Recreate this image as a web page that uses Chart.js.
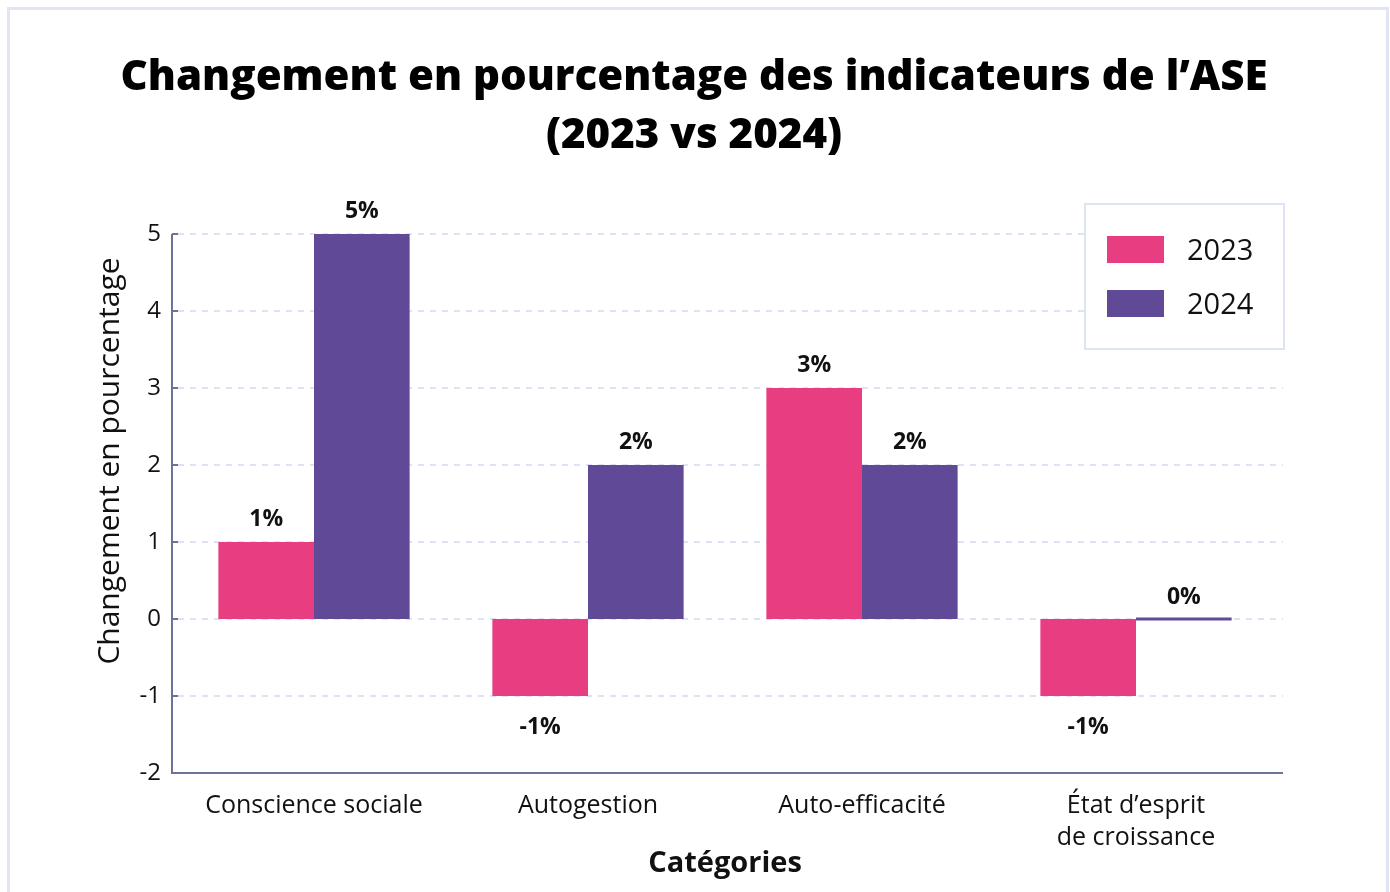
<!DOCTYPE html>
<html>
<head>
<meta charset="utf-8">
<script src="https://cdn.jsdelivr.net/npm/chart.js@4.4.1/dist/chart.umd.min.js"></script>
<style>
  html, body { margin: 0; padding: 0; background: #ffffff; overflow: hidden; }
  #wrap { position: relative; width: 1390px; height: 892px; }
  #frame { position: absolute; left: 7px; top: 7px; width: 1376px; height: 900px; border: 3px solid #e0e5f5; pointer-events: none; }
  canvas { position: absolute; left: 0; top: 0; }
</style>
</head>
<body>
<div id="wrap">
  <canvas id="c" width="1390" height="892"></canvas>
  <div id="frame"></div>
</div>
<script>
const categories = ["Conscience sociale", "Autogestion", "Auto-efficacité", ["État d’esprit", "de croissance"]];
const values2023 = [1, -1, 3, -1];
const values2024 = [5, 2, 2, 0];
const seriesLabels = ["2023", "2024"];
const seriesColors = ["#e93d82", "#604a97"];
const titleLines = ["Changement en pourcentage des indicateurs de l’ASE", "(2023 vs 2024)"];
const yTitle = "Changement en pourcentage";
const xTitle = "Catégories";

const FONT = "'Open Sans', 'Noto Sans', sans-serif";
const AXIS_COLOR = "#6b7399";
const GRID_COLOR = "#dde2f4";
const AXIS_X = 172;      // where the drawn y-axis line sits
const AXIS_RIGHT = 1283; // where the x-axis line / grid lines end

// chart title (centred on the page)
const pageTitle = {
  id: 'pageTitle',
  afterDraw(chart) {
    const ctx = chart.ctx;
    ctx.save();
    ctx.fillStyle = "#000";
    ctx.font = "800 42px " + FONT;
    ctx.textAlign = "center";
    ctx.textBaseline = "middle";
    titleLines.forEach((line, i) => ctx.fillText(line, 694, 78 + i * 58));
    ctx.restore();
  }
};

// dashed grid lines at the y scale's ticks (drawn through the library's y scale)
const gridLines = {
  id: 'gridLines',
  beforeDatasetsDraw(chart) {
    const ctx = chart.ctx;
    const ys = chart.scales.y;
    ctx.save();
    ctx.strokeStyle = GRID_COLOR;
    ctx.lineWidth = 2;
    ctx.setLineDash([6, 6]);
    ys.ticks.forEach(t => {
      if (t.value === ys.min) return;
      const y = Math.round(ys.getPixelForValue(t.value));
      ctx.beginPath();
      ctx.moveTo(AXIS_X + 6, y);
      ctx.lineTo(AXIS_RIGHT, y);
      ctx.stroke();
    });
    ctx.restore();
  }
};

const axesAndLabels = {
  id: 'axesAndLabels',
  afterDatasetsDraw(chart) {
    const ctx = chart.ctx;
    const ys = chart.scales.y;
    const top = ys.getPixelForValue(ys.max);
    const bottom = ys.getPixelForValue(ys.min);
    ctx.save();
    ctx.strokeStyle = AXIS_COLOR;
    ctx.lineWidth = 2;
    ctx.beginPath();
    ctx.moveTo(AXIS_X, top);
    ctx.lineTo(AXIS_X, bottom + 1);
    ctx.moveTo(AXIS_X - 1, bottom);
    ctx.lineTo(AXIS_RIGHT, bottom);
    ctx.stroke();
    ys.ticks.forEach(t => {
      const y = Math.round(ys.getPixelForValue(t.value));
      ctx.beginPath();
      ctx.moveTo(AXIS_X, y);
      ctx.lineTo(AXIS_X + 6, y);
      ctx.stroke();
    });
    ctx.fillStyle = "#111";
    ctx.font = "30px " + FONT;
    ctx.textAlign = "center";
    ctx.textBaseline = "middle";
    ctx.translate(110, 461);
    ctx.rotate(-Math.PI / 2);
    ctx.fillText(yTitle, 0, 0);
    ctx.restore();

    ctx.save();
    ctx.font = "bold 23px " + FONT;
    ctx.fillStyle = "#111";
    ctx.textAlign = "center";
    ctx.textBaseline = "middle";
    chart.data.datasets.forEach((ds, di) => {
      const meta = chart.getDatasetMeta(di);
      meta.data.forEach((el, i) => {
        const v = ds.data[i];
        const y = v >= 0 ? el.y - 23 : el.y + 31;
        ctx.fillText(v + "%", el.x, y);
      });
    });
    ctx.restore();
  }
};

const boxLegend = {
  id: 'boxLegend',
  afterDraw(chart) {
    const ctx = chart.ctx;
    ctx.save();
    const bx = 1085, by = 204, bw = 199, bh = 145;
    ctx.fillStyle = "#ffffff";
    ctx.fillRect(bx, by, bw, bh);
    ctx.strokeStyle = "#dfe4f5";
    ctx.lineWidth = 2;
    ctx.strokeRect(bx, by, bw, bh);
    ctx.font = "29px " + FONT;
    ctx.textBaseline = "middle";
    ctx.textAlign = "left";
    chart.data.datasets.forEach((ds, i) => {
      const cy = 249 + i * 54;
      ctx.fillStyle = ds.backgroundColor;
      ctx.fillRect(1107, cy - 13, 57, 27);
      ctx.fillStyle = "#111";
      ctx.fillText(ds.label, 1187, cy + 3);
    });
    ctx.restore();
  }
};

new Chart(document.getElementById('c'), {
  type: 'bar',
  data: {
    labels: categories,
    datasets: [
      { label: seriesLabels[0], data: values2023, backgroundColor: seriesColors[0], barPercentage: 1, categoryPercentage: 0.698, minBarLength: 3 },
      { label: seriesLabels[1], data: values2024, backgroundColor: seriesColors[1], barPercentage: 1, categoryPercentage: 0.698, minBarLength: 3 }
    ]
  },
  options: {
    responsive: false,
    animation: false,
    devicePixelRatio: 1,
    layout: { padding: { left: 90, right: 1390 - 1273, top: 234, bottom: 0 } },
    plugins: {
      legend: { display: false },
      tooltip: { enabled: false },
      title: { display: false }
    },
    scales: {
      x: {
        grid: { display: false, drawTicks: false },
        border: { display: false },
        ticks: { color: "#111", font: { family: FONT, size: 25, lineHeight: 32 / 25 }, padding: 17, maxRotation: 0, autoSkip: false },
        title: { display: true, text: xTitle, color: "#111", font: { family: FONT, size: 29, weight: 'bold', lineHeight: 1.2 }, padding: { top: 0, bottom: 11 } },
        afterFit(scale) { scale.height = 892 - 773; }
      },
      y: {
        min: -2, max: 5,
        ticks: { stepSize: 1, color: "#111", font: { family: FONT, size: 24 }, padding: 16 },
        grid: { display: false, drawTicks: false },
        border: { display: false },
        title: { display: false },
        afterFit(scale) { scale.width = 177 - 90; }
      }
    }
  },
  plugins: [gridLines, axesAndLabels, boxLegend, pageTitle]
});
</script>
</body>
</html>
